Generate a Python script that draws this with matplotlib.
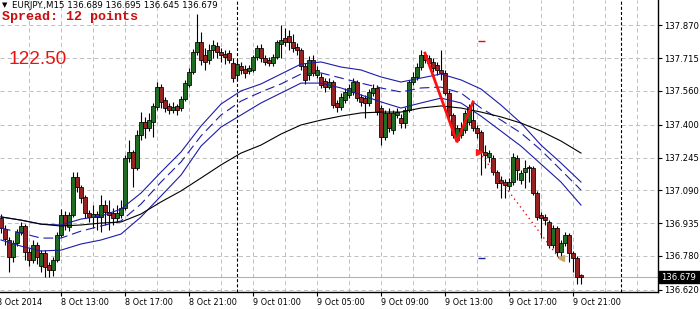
import matplotlib
matplotlib.use('Agg')
import matplotlib.pyplot as plt
import numpy as np
from matplotlib.transforms import blended_transform_factory
from matplotlib.patches import Rectangle

plt.rcParams['lines.scale_dashes'] = False
plt.rcParams['font.family'] = ['DejaVu Sans']

# ---------------- data (EURJPY M15, bar index 1 = 8 Oct 09:15) ----------------
bar_idx = list(range(1, 147))
open_ = [136.959, 136.907, 136.855, 136.774, 136.841, 136.893, 136.921, 136.798, 136.760, 136.831,
         136.732, 136.793, 136.737, 136.713, 136.760, 136.878, 136.973, 136.916, 136.973, 137.153,
         137.105, 137.058, 136.983, 136.964, 136.978, 136.964, 137.020, 136.987, 136.983, 136.959,
         136.973, 137.006, 137.243, 137.271, 137.195, 137.351, 137.413, 137.385, 137.413, 137.484,
         137.578, 137.517, 137.489, 137.470, 137.489, 137.479, 137.522, 137.588, 137.649, 137.744,
         137.791, 137.730, 137.706, 137.753, 137.772, 137.744, 137.735, 137.739, 137.692, 137.635,
         137.678, 137.664, 137.654, 137.659, 137.720, 137.763, 137.716, 137.706, 137.692, 137.720,
         137.782, 137.810, 137.820, 137.791, 137.768, 137.753, 137.678, 137.635, 137.706, 137.635,
         137.626, 137.607, 137.578, 137.602, 137.503, 137.484, 137.517, 137.541, 137.555, 137.602,
         137.531, 137.526, 137.503, 137.550, 137.574, 137.479, 137.342, 137.456, 137.375, 137.446,
         137.432, 137.408, 137.470, 137.602, 137.626, 137.673, 137.730, 137.716, 137.697, 137.683,
         137.659, 137.645, 137.550, 137.446, 137.328, 137.351, 137.375, 137.413, 137.422, 137.385,
         137.366, 137.271, 137.247, 137.243, 137.176, 137.139, 137.129, 137.110, 137.129, 137.243,
         137.139, 137.176, 137.195, 137.195, 137.077, 136.973, 136.964, 136.940, 136.831, 136.912,
         136.798, 136.841, 136.878, 136.793, 136.770, 136.689]
high = [136.978, 136.926, 136.869, 136.855, 136.907, 136.940, 136.930, 136.817, 136.855, 136.845,
        136.807, 136.807, 136.751, 136.774, 136.893, 137.001, 136.992, 136.987, 137.176, 137.176,
        137.115, 137.068, 136.997, 137.020, 136.992, 137.068, 137.044, 137.044, 137.006, 137.020,
        137.044, 137.257, 137.328, 137.280, 137.375, 137.460, 137.437, 137.456, 137.503, 137.602,
        137.593, 137.531, 137.503, 137.508, 137.498, 137.536, 137.612, 137.668, 137.758, 137.924,
        137.839, 137.763, 137.782, 137.801, 137.791, 137.763, 137.753, 137.753, 137.716, 137.706,
        137.697, 137.683, 137.683, 137.730, 137.777, 137.782, 137.730, 137.720, 137.735, 137.801,
        137.872, 137.858, 137.848, 137.829, 137.787, 137.763, 137.692, 137.725, 137.730, 137.678,
        137.645, 137.621, 137.621, 137.612, 137.517, 137.550, 137.574, 137.593, 137.621, 137.612,
        137.545, 137.541, 137.569, 137.593, 137.588, 137.493, 137.470, 137.479, 137.470, 137.479,
        137.451, 137.484, 137.612, 137.649, 137.692, 137.754, 137.739, 137.730, 137.716, 137.697,
        137.754, 137.659, 137.564, 137.456, 137.399, 137.413, 137.470, 137.498, 137.508, 137.399,
        137.375, 137.304, 137.280, 137.257, 137.186, 137.158, 137.143, 137.148, 137.266, 137.257,
        137.186, 137.233, 137.210, 137.205, 137.087, 136.987, 136.978, 136.949, 136.926, 136.921,
        136.855, 136.893, 136.888, 136.803, 136.779, 136.695]
low = [136.888, 136.831, 136.703, 136.751, 136.826, 136.878, 136.760, 136.732, 136.746, 136.741,
       136.703, 136.680, 136.680, 136.685, 136.751, 136.869, 136.902, 136.897, 136.964, 137.082,
       137.030, 136.959, 136.940, 136.912, 136.902, 136.893, 136.926, 136.902, 136.926, 136.940,
       136.959, 136.997, 137.224, 137.105, 137.186, 137.328, 137.337, 137.370, 137.342, 137.470,
       137.479, 137.460, 137.451, 137.456, 137.446, 137.465, 137.512, 137.578, 137.640, 137.730,
       137.683, 137.659, 137.687, 137.716, 137.716, 137.697, 137.687, 137.692, 137.602, 137.612,
       137.640, 137.621, 137.640, 137.649, 137.706, 137.697, 137.683, 137.678, 137.678, 137.711,
       137.716, 137.772, 137.753, 137.744, 137.730, 137.659, 137.593, 137.612, 137.631, 137.621,
       137.574, 137.555, 137.569, 137.479, 137.460, 137.470, 137.503, 137.526, 137.541, 137.512,
       137.489, 137.432, 137.489, 137.536, 137.446, 137.304, 137.328, 137.366, 137.356, 137.432,
       137.385, 137.385, 137.460, 137.588, 137.612, 137.659, 137.692, 137.668, 137.649, 137.635,
       137.612, 137.541, 137.432, 137.337, 137.318, 137.337, 137.361, 137.399, 137.370, 137.337,
       137.162, 137.195, 137.224, 137.162, 137.101, 137.053, 137.053, 137.091, 137.115, 137.139,
       137.120, 137.101, 137.129, 137.068, 136.949, 136.864, 136.926, 136.817, 136.817, 136.779,
       136.770, 136.826, 136.751, 136.703, 136.647, 136.645]
close = [136.912, 136.860, 136.774, 136.841, 136.893, 136.921, 136.798, 136.760, 136.831, 136.774,
         136.793, 136.727, 136.713, 136.760, 136.878, 136.973, 136.926, 136.973, 137.153, 137.105,
         137.053, 136.983, 136.964, 136.978, 136.964, 137.020, 136.987, 136.973, 136.959, 136.983,
         137.006, 137.243, 137.271, 137.195, 137.351, 137.413, 137.385, 137.422, 137.489, 137.578,
         137.508, 137.479, 137.470, 137.484, 137.470, 137.522, 137.597, 137.649, 137.744, 137.791,
         137.706, 137.697, 137.753, 137.777, 137.744, 137.730, 137.720, 137.706, 137.621, 137.687,
         137.659, 137.645, 137.668, 137.720, 137.763, 137.716, 137.697, 137.692, 137.720, 137.791,
         137.801, 137.791, 137.791, 137.763, 137.753, 137.678, 137.612, 137.706, 137.645, 137.659,
         137.588, 137.578, 137.602, 137.493, 137.484, 137.531, 137.555, 137.574, 137.602, 137.526,
         137.508, 137.503, 137.555, 137.574, 137.460, 137.342, 137.456, 137.385, 137.456, 137.460,
         137.408, 137.470, 137.602, 137.626, 137.673, 137.730, 137.706, 137.692, 137.668, 137.659,
         137.645, 137.550, 137.446, 137.351, 137.385, 137.385, 137.456, 137.484, 137.385, 137.361,
         137.271, 137.257, 137.266, 137.176, 137.124, 137.124, 137.115, 137.129, 137.247, 137.186,
         137.172, 137.195, 137.200, 137.077, 136.964, 136.959, 136.949, 136.831, 136.912, 136.798,
         136.841, 136.878, 136.793, 136.770, 136.680, 136.679]

# indicator lines, read every 5 bars (bar 1, 6, ..., 146)
ind_idx = list(range(1, 147, 5))
env_upper = [136.964, 136.949, 136.930, 136.926, 136.954, 136.968, 137.001, 137.077, 137.176, 137.271,
             137.394, 137.498, 137.560, 137.593, 137.640, 137.687, 137.697, 137.673, 137.659, 137.626,
             137.602, 137.621, 137.640, 137.612, 137.569, 137.493, 137.408, 137.304, 137.219, 137.129]
env_mid = [136.912, 136.888, 136.864, 136.864, 136.897, 136.921, 136.945, 137.025, 137.129, 137.224,
           137.347, 137.446, 137.512, 137.555, 137.593, 137.640, 137.645, 137.621, 137.597, 137.574,
           137.555, 137.574, 137.578, 137.550, 137.479, 137.422, 137.361, 137.280, 137.186, 137.091]
env_lower = [136.855, 136.826, 136.803, 136.807, 136.836, 136.855, 136.883, 136.964, 137.063, 137.162,
             137.299, 137.389, 137.446, 137.503, 137.550, 137.597, 137.597, 137.574, 137.541, 137.508,
             137.479, 137.503, 137.526, 137.503, 137.441, 137.370, 137.299, 137.214, 137.129, 137.020]
ma_slow = [136.964, 136.949, 136.930, 136.921, 136.926, 136.935, 136.940, 136.978, 137.035, 137.087,
           137.148, 137.210, 137.266, 137.304, 137.356, 137.399, 137.422, 137.441, 137.456, 137.460,
           137.460, 137.479, 137.489, 137.479, 137.460, 137.437, 137.408, 137.370, 137.323, 137.266]

price_ticks = [137.870, 137.715, 137.560, 137.400, 137.245, 137.090, 136.935, 136.780, 136.620]
time_tick_idx = [0, 16, 32, 48, 64, 80, 96, 112, 128, 144]
time_labels = ['8 Oct 2014', '8 Oct 13:00', '8 Oct 17:00', '8 Oct 21:00', '9 Oct 01:00',
               '9 Oct 05:00', '9 Oct 09:00', '9 Oct 13:00', '9 Oct 17:00', '9 Oct 21:00']
day_sep_idx = [60, 156]
zigzag_bars = [107, 115, 119]
trade_bars = [120.5, 140.5]
trade_prices = [137.271, 136.770]
stop_loss = 137.796
take_profit = 136.770
bid = 136.679
header = 'EURJPY.,M15 136.689 136.695 136.645 136.679'

# ---------------- figure ----------------
W, H = 700, 309
fig = plt.figure(figsize=(W / 100, H / 100), dpi=100)
fig.patch.set_facecolor('white')
ax = fig.add_axes([0, 17 / H, 658 / W, 292 / H])
ax.set_facecolor('white')
ax.set_xlim(0.75, 165.25)
ax.set_ylim(136.609, 137.990)

grid_c = '#c0c0c0'
for p in price_ticks:
    ax.axhline(p, color=grid_c, lw=0.7, ls=(0, (3, 2.2)), zorder=0)
for g in range(0, 168, 8):
    ax.axvline(g, color=grid_c, lw=0.7, ls=(0, (3, 2.2)), zorder=0)
for d in day_sep_idx:
    ax.axvline(d, color='black', lw=0.8, ls=(0, (2.2, 1.5)), zorder=1)

ax.axhline(bid, color='#b4b4b4', lw=0.8, zorder=1)

# candles
o = np.array(open_); c = np.array(close); hi = np.array(high); lo = np.array(low)
x = np.array(bar_idx)
ax.vlines(x, lo, hi, color='black', lw=0.8, zorder=2)
up = c >= o
body_h = np.maximum(np.abs(c - o), 0.0015)
ax.bar(x[up], body_h[up], bottom=np.minimum(o, c)[up], width=0.78,
       color='#226b22', edgecolor='black', linewidth=0.55, zorder=3)
ax.bar(x[~up], body_h[~up], bottom=np.minimum(o, c)[~up], width=0.78,
       color='#962222', edgecolor='black', linewidth=0.55, zorder=3)

# indicators
blue = '#1c1ca8'
ax.plot(ind_idx, env_upper, color=blue, lw=0.8, zorder=4)
ax.plot(ind_idx, env_lower, color=blue, lw=0.8, zorder=4)
ax.plot(ind_idx, env_mid, color=blue, lw=0.8, ls=(0, (7, 3.5)), zorder=4)
ax.plot(ind_idx, ma_slow, color='black', lw=0.8, zorder=4)

# zigzag
zz_p = [hi[zigzag_bars[0] - 1], lo[zigzag_bars[1] - 1], hi[zigzag_bars[2] - 1]]
ax.plot(zigzag_bars, zz_p, color='#ff1010', lw=2.0, zorder=5, solid_joinstyle='miter')

# trade
ax.plot(trade_bars, trade_prices, color='#e00000', lw=0.9, ls=(0, (1, 2.5)), zorder=5)
ax.plot(trade_bars[0], trade_prices[0], marker='>', color='#ff1a1a', ms=4.5, zorder=6)
ax.plot(trade_bars[1] + 0.4, trade_prices[1], marker='<', color='#c8aa70', ms=5, zorder=6)
ax.hlines(stop_loss, 120.3, 122.0, color='#ff0000', lw=1.0, zorder=5)
ax.hlines(take_profit, 120.3, 122.0, color='#1c1ca8', lw=1.0, zorder=5)

# axes styling
for s in ['left', 'top']:
    ax.spines[s].set_visible(False)
for s in ['right', 'bottom']:
    ax.spines[s].set_color('black')
    ax.spines[s].set_linewidth(1.0)
ax.yaxis.tick_right()
ax.set_yticks(price_ticks)
ax.set_yticklabels([f'{p:.3f}' for p in price_ticks])
ax.tick_params(axis='y', length=3, width=0.8, pad=1.5, labelsize=6.1, colors='black')
ax.set_xticks(time_tick_idx[1:])
ax.set_xticklabels(time_labels[1:], ha='left')
ax.tick_params(axis='x', length=3, width=0.8, pad=1.5, labelsize=5.9, colors='black')
ax.text(time_tick_idx[0], -0.0215, time_labels[0], transform=ax.get_xaxis_transform(),
        ha='left', va='top', fontsize=5.9, clip_on=False)

# bid label box
bt = blended_transform_factory(fig.transFigure, ax.transData)
bh = 12 * (137.990 - 136.609) / 292
fig.patches.append(Rectangle((659 / W, bid - bh / 2), 41 / W, bh, transform=bt,
                             facecolor='black', edgecolor='black', zorder=10))
fig.text(661 / W, bid, f'{bid:.3f}', transform=bt, color='white', fontsize=6.1,
         ha='left', va='center', zorder=11)

# texts
fig.text(2 / W, 1 - 5.5 / H, '\u25bc', fontsize=5, ha='left', va='center', color='black')
fig.text(12 / W, 1 - 5.5 / H, header, fontsize=6.2, ha='left', va='center', color='black')
fig.text(2 / W, 1 - 17 / H, 'Spread: 12 points', fontsize=9.6, family='Liberation Mono',
         fontweight='bold', ha='left', va='center', color='#c81010')
fig.text(8 / W, 1 - 59 / H, '122.50', fontsize=13.7, family='Liberation Sans',
         ha='left', va='center', color='#ee1111')

fig.savefig('out.png', dpi=100)
